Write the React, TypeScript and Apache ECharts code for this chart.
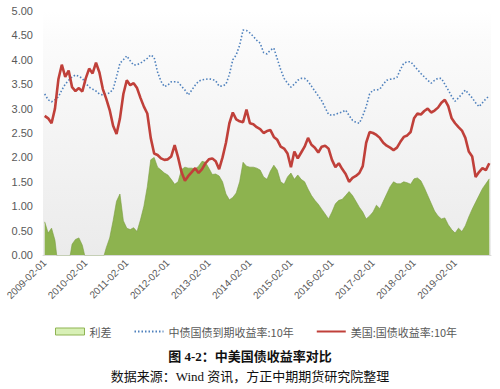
import React, { useEffect, useRef } from "react";
import * as echarts from "echarts";

// Monthly observations, 2009-02 .. 2019-12
const START_YEAR = 2009;
const START_MONTH = 2;
const MONTH_COUNT = 131;

const chinaYield10Y: number[] = [
  3.30, 3.18, 3.14, 3.18, 3.24, 3.38, 3.50, 3.58, 3.65, 3.69, 3.66, 3.62,
  3.52, 3.44, 3.40, 3.36, 3.30, 3.28, 3.30, 3.32, 3.40, 3.65, 3.93, 4.00,
  4.08, 3.98, 3.89, 3.90, 3.93, 3.98, 4.03, 4.10, 4.05, 3.75, 3.56, 3.45,
  3.48, 3.55, 3.55, 3.54, 3.46, 3.38, 3.28, 3.38, 3.48, 3.56, 3.59, 3.60,
  3.61, 3.60, 3.57, 3.46, 3.46, 3.50, 3.70, 4.00, 4.10, 4.30, 4.61, 4.60,
  4.55, 4.48, 4.40, 4.34, 4.15, 4.12, 4.20, 4.24, 4.02, 3.80, 3.62, 3.52,
  3.44, 3.50, 3.58, 3.62, 3.62, 3.56, 3.46, 3.36, 3.26, 3.16, 3.02, 2.88,
  2.86, 2.88, 2.91, 2.93, 2.97, 2.86, 2.76, 2.72, 2.70, 2.85, 3.04, 3.30,
  3.38, 3.38, 3.40, 3.50, 3.58, 3.60, 3.61, 3.64, 3.80, 3.93, 3.96, 3.96,
  3.88, 3.80, 3.72, 3.65, 3.58, 3.52, 3.58, 3.62, 3.62, 3.50, 3.38, 3.25,
  3.15, 3.22, 3.30, 3.38, 3.30, 3.22, 3.12, 3.04, 3.12, 3.20, 3.26,
];

const usYield10Y: number[] = [
  2.85, 2.80, 2.70, 3.00, 3.60, 3.90, 3.65, 3.78, 3.44, 3.36, 3.42, 3.35,
  3.62, 3.82, 3.72, 3.94, 3.74, 3.40, 3.20, 2.97, 2.65, 2.48, 2.80, 3.30,
  3.58, 3.48, 3.52, 3.42, 3.22, 3.04, 2.90, 2.40, 2.08, 2.05, 1.98, 1.95,
  1.96, 2.02, 2.25, 2.00, 1.70, 1.52, 1.62, 1.70, 1.78, 1.68, 1.76, 1.88,
  1.96, 1.98, 1.92, 1.76, 2.00, 2.30, 2.70, 2.92, 2.78, 2.74, 2.72, 2.98,
  2.70, 2.68, 2.62, 2.58, 2.50, 2.54, 2.56, 2.42, 2.36, 2.22, 2.18, 2.08,
  1.80, 2.12, 1.98, 2.10, 2.22, 2.40, 2.26, 2.20, 2.10, 2.22, 2.24, 2.18,
  1.95, 1.80, 1.88, 1.76, 1.66, 1.50, 1.58, 1.62, 1.68, 1.82, 2.30, 2.52,
  2.50, 2.46, 2.40, 2.30, 2.24, 2.20, 2.15, 2.20, 2.32, 2.42, 2.45, 2.52,
  2.80, 2.90, 2.88, 2.95, 3.00, 2.92, 2.96, 3.02, 3.12, 3.18, 3.05, 2.80,
  2.70, 2.62, 2.55, 2.40, 2.12, 2.02, 1.60, 1.70, 1.78, 1.74, 1.88,
];

const spread: number[] = [
  0.68, 0.45, 0.55, 0.30, -0.30, -0.50, -0.15, -0.20, 0.22, 0.32, 0.35, 0.20,
  -0.10, -0.40, -0.35, -0.60, -0.45, -0.10, 0.15, 0.35, 0.70, 1.10, 1.25, 0.70,
  0.55, 0.52, 0.56, 0.48, 0.72, 1.00, 1.40, 1.95, 2.00, 1.80, 1.74, 1.68,
  1.64, 1.55, 1.45, 1.50, 1.75, 1.80, 1.78, 1.78, 1.76, 1.82, 1.92, 1.90,
  1.78, 1.65, 1.66, 1.62, 1.50, 1.25, 1.13, 1.18, 1.27, 1.50, 1.90, 1.82,
  1.80, 1.80, 1.78, 1.74, 1.60, 1.55, 1.72, 1.84, 1.74, 1.50, 1.45, 1.60,
  1.68, 1.55, 1.64, 1.55, 1.50, 1.35, 1.22, 1.12, 1.04, 0.94, 0.84, 0.74,
  0.88, 1.05, 1.12, 1.14, 1.22, 1.30, 1.22, 1.10, 0.98, 0.88, 0.74, 0.80,
  0.88, 1.02, 0.95, 1.10, 1.25, 1.40, 1.50, 1.46, 1.46, 1.50, 1.48, 1.45,
  1.56, 1.58, 1.52, 1.38, 1.22, 1.06, 0.90, 0.80, 0.74, 0.76, 0.62, 0.52,
  0.45, 0.55, 0.48, 0.60, 0.78, 0.94, 1.08, 1.22, 1.36, 1.46, 1.56,
];

const yTicks = { min: 0, max: 5, interval: 0.5 };

const seriesNames = ["利差", "中债国债到期收益率:10年", "美国:国债收益率:10年"];
const chartTitle = "图 4-2：中美国债收益率对比";
const chartSource = "数据来源：Wind 资讯，方正中期期货研究院整理";

function buildCategories(): string[] {
  const out: string[] = [];
  for (let i = 0; i < MONTH_COUNT; i++) {
    const total = START_MONTH - 1 + i;
    const y = START_YEAR + Math.floor(total / 12);
    const m = (total % 12) + 1;
    out.push(`${y}-${m < 10 ? "0" + m : m}-01`);
  }
  return out;
}

const categories = buildCategories();

export default function App() {
  const ref = useRef<HTMLDivElement>(null);

  useEffect(() => {
    document.body.style.margin = "0";
    if (!ref.current) return;
    const chart = echarts.init(ref.current, undefined, { renderer: "svg" });
    const axisFont = "'Liberation Sans', 'Noto Sans', sans-serif";
    const cjkFont = "'Noto Sans CJK SC', 'Noto Sans', sans-serif";
    const hiddenSymbol = { color: "rgba(0,0,0,0)", borderColor: "rgba(0,0,0,0)", borderWidth: 0 };
    chart.setOption({
      animation: false,
      backgroundColor: "#ffffff",
      grid: {
        left: 43,
        right: 9,
        top: 11,
        bottom: 134,
        outerBoundsMode: "none",
        show: true,
        borderWidth: 0,
        backgroundColor: new echarts.graphic.LinearGradient(0, 0, 0, 1, [
          { offset: 0, color: "#ffffff" },
          { offset: 0.12, color: "#fbfbfb" },
          { offset: 1, color: "#ebebeb" },
        ]),
      },
      legend: {
        left: 55,
        top: 326,
        padding: 0,
        itemWidth: 29,
        itemHeight: 7,
        itemGap: 22,
        textStyle: { fontFamily: cjkFont, fontSize: 11, color: "#595959" },
        data: [
          {
            name: seriesNames[0],
            icon: "rect",
            itemStyle: { color: "#d8f0b6", borderColor: "#8fb453", borderWidth: 1 },
          },
          { name: seriesNames[1], itemStyle: hiddenSymbol },
          { name: seriesNames[2], itemStyle: hiddenSymbol },
        ],
      },
      xAxis: {
        type: "category",
        data: categories,
        boundaryGap: true,
        axisLine: { show: true, lineStyle: { color: "#d9d9d9", width: 1 } },
        axisTick: { show: false },
        axisLabel: {
          interval: 11,
          rotate: 45,
          fontSize: 10,
          color: "#595959",
          fontFamily: axisFont,
          margin: 6,
        },
        splitLine: { show: false },
      },
      yAxis: {
        type: "value",
        min: yTicks.min,
        max: yTicks.max,
        interval: yTicks.interval,
        axisLine: { show: false },
        axisTick: { show: false },
        splitLine: { show: false },
        axisLabel: {
          formatter: (v: number) => v.toFixed(2),
          fontSize: 11,
          color: "#595959",
          fontFamily: axisFont,
          margin: 10,
        },
      },
      series: [
        {
          name: seriesNames[0],
          type: "line",
          data: spread,
          symbol: "none",
          clip: true,
          lineStyle: { width: 0.6, color: "#7a9c42" },
          areaStyle: { color: "#8db34f", opacity: 1 },
          itemStyle: { color: "#d8f0b6", borderColor: "#8fb453", borderWidth: 1 },
          z: 1,
        },
        {
          name: seriesNames[1],
          type: "line",
          data: chinaYield10Y,
          symbol: "none",
          lineStyle: { color: "#4f81bd", width: 1.6, type: [1.5, 2] },
          itemStyle: { color: "#4f81bd" },
          z: 3,
        },
        {
          name: seriesNames[2],
          type: "line",
          data: usYield10Y,
          symbol: "none",
          lineStyle: { color: "#c0403a", width: 2.6 },
          itemStyle: { color: "#c0403a" },
          z: 4,
        },
      ],
      graphic: [
        {
          type: "text",
          left: "center",
          top: 350,
          style: {
            text: chartTitle,
            fontFamily: "'Liberation Serif', 'Noto Sans CJK SC', serif",
            fontWeight: "bold",
            fontSize: 13,
            fill: "#111111",
          },
        },
        {
          type: "text",
          left: "center",
          top: 370,
          style: {
            text: chartSource,
            fontFamily: "'Liberation Serif', 'Noto Sans CJK SC', serif",
            fontSize: 13,
            fill: "#111111",
          },
        },
      ],
    });
    return () => chart.dispose();
  }, []);

  return <div ref={ref} style={{ width: 500, height: 389 }} />;
}
